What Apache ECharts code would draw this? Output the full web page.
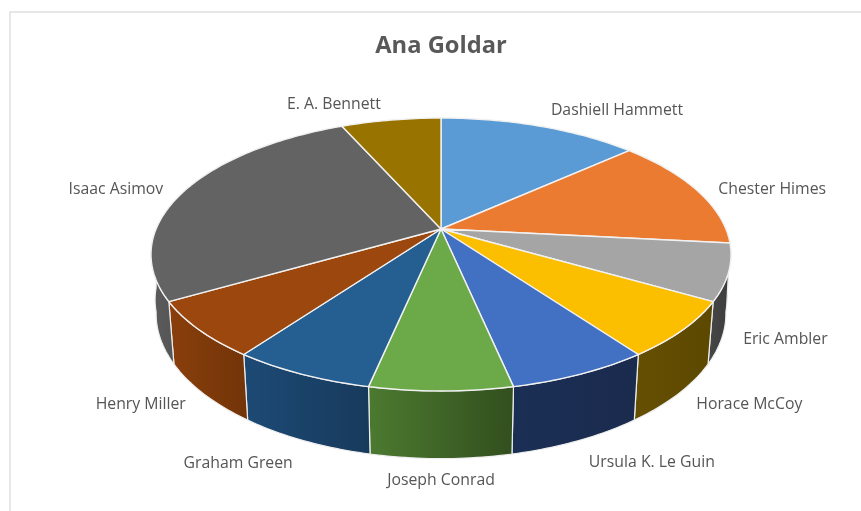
<!DOCTYPE html>
<html>
<head>
<meta charset="utf-8">
<style>
  html, body { margin: 0; padding: 0; background: #ffffff; }
  #chart { width: 861px; height: 511px; }
</style>
<script src="https://cdn.jsdelivr.net/npm/echarts@6/dist/echarts.min.js"></script>
</head>
<body>
<div id="chart"></div>
<script>
// Books read per author
const authors = ['Dashiell Hammett', 'Chester Himes', 'Eric Ambler', 'Horace McCoy', 'Ursula K. Le Guin',
  'Joseph Conrad', 'Graham Green', 'Henry Miller', 'Isaac Asimov', 'E. A. Bennett'];
const books = [2, 2, 1, 1, 1, 1, 1, 1, 4, 1];

// Slice colours: lid, then the wall gradient from left to right
const lidColors = ['#5b9bd5', '#ea7b31', '#a5a5a5', '#fcbf00', '#4270c2', '#6ca948', '#255e91', '#9b470d', '#636363', '#997300'];
const wallLeft = ['#37607f', '#8e4b1e', '#474747', '#654f02', '#1b2e54', '#4c7a30', '#1d4a75', '#8a3f0c', '#5c5c5c', '#5c4500'];
const wallRight = ['#37607f', '#8e4b1e', '#3c3c3c', '#5c4800', '#1a2b4e', '#324f1e', '#173a5c', '#723408', '#555555', '#5c4500'];

// Label shift in pixels from the rim point at each slice's middle angle
const labelShift = [[77, -16], [75, -1], [62, 7], [71, 11], [74, 22], [0, 22], [-66, 23], [-63, 11], [-69, -1], [-57, -16]];

// Perspective camera for the disc: circle coordinates to screen pixels
const view = { cx: 441, cy: 229, rx: 284.9, ry: 131.7, tilt: 0.1868, drop: 59, shrink: 0.0173, shrinkFade: 0.17 };

const total = books.reduce((a, b) => a + b, 0);
const sliceAngles = [];
books.reduce((start, v) => {
  const end = start + (v / total) * 360;
  sliceAngles.push([start, end]);
  return end;
}, 0);

// Angle runs clockwise from the far side of the disc; level 0 is the lid, 1 the underside.
// The underside narrows towards the front and keeps full width at the disc's widest points.
function project(deg, level) {
  const a = deg * Math.PI / 180;
  const u = Math.sin(a);
  const v = -Math.cos(a);
  const fade = Math.min(1, Math.max(0, v / view.shrinkFade));
  const w = 1 - view.tilt * v + view.shrink * level * fade;
  return [view.cx + view.rx * u / w, view.cy + (view.ry * v + view.drop * level) / w];
}

function arc(from, to, level) {
  const pts = [];
  const steps = Math.max(2, Math.ceil(Math.abs(to - from)));
  for (let i = 0; i <= steps; i++) {
    pts.push(project(from + (to - from) * i / steps, level));
  }
  return pts;
}

function renderWall(params) {
  const i = params.dataIndex;
  const from = Math.max(sliceAngles[i][0], 90);
  const to = Math.min(sliceAngles[i][1], 270);
  if (to <= from) return { type: 'group', children: [] };
  return {
    type: 'polygon',
    shape: { points: arc(from, to, 0).concat(arc(to, from, 1)) },
    style: {
      fill: new echarts.graphic.LinearGradient(0, 0, 1, 0, [
        { offset: 0, color: wallLeft[i] },
        { offset: 1, color: wallRight[i] }
      ]),
      stroke: '#eeeeee',
      lineWidth: 1.2
    }
  };
}

function renderLid(params) {
  const i = params.dataIndex;
  const [from, to] = sliceAngles[i];
  return {
    type: 'polygon',
    shape: { points: [[view.cx, view.cy]].concat(arc(from, to, 0)) },
    style: { fill: lidColors[i], stroke: '#f1f1f1', lineWidth: 1.4, lineJoin: 'round' }
  };
}

function renderLabel(params) {
  const i = params.dataIndex;
  const mid = (sliceAngles[i][0] + sliceAngles[i][1]) / 2;
  const front = mid > 90 && mid < 270;
  const rim = project(mid, front ? 1 : 0);
  return {
    type: 'text',
    x: rim[0] + labelShift[i][0],
    y: rim[1] + labelShift[i][1],
    style: {
      text: authors[i],
      fill: '#555555',
      font: '15.8px "Open Sans"',
      align: 'center',
      verticalAlign: 'middle'
    }
  };
}

const slices = authors.map((name, i) => ({ name, value: books[i] }));
const chart = echarts.init(document.getElementById('chart'), null, { renderer: 'canvas' });
chart.setOption({
  animation: false,
  backgroundColor: '#ffffff',
  graphic: [
    {
      type: 'rect',
      shape: { x: 10, y: 12, width: 900, height: 560 },
      style: { fill: 'none', stroke: '#dfdfdf', lineWidth: 1.5 },
      silent: true,
      z: -1
    },
    {
      type: 'text',
      x: 441,
      y: 46.5,
      style: {
        text: 'Ana Goldar',
        fill: '#595959',
        font: 'bold 23.7px "Open Sans"',
        align: 'center',
        verticalAlign: 'middle'
      },
      silent: true,
      z: 5
    }
  ],
  series: [
    { type: 'custom', name: 'walls', coordinateSystem: 'none', data: slices, renderItem: renderWall, z: 2, silent: true },
    { type: 'custom', name: 'lids', coordinateSystem: 'none', data: slices, renderItem: renderLid, z: 3, silent: true },
    { type: 'custom', name: 'labels', coordinateSystem: 'none', data: slices, renderItem: renderLabel, z: 4, silent: true }
  ]
});
</script>
</body>
</html>
